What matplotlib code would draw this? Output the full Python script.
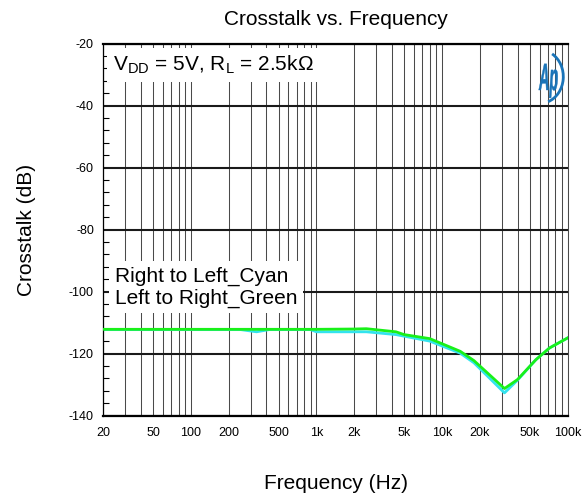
import numpy as np
import matplotlib
matplotlib.use('Agg')
import matplotlib.pyplot as plt
from matplotlib.ticker import FixedLocator, MultipleLocator, LogLocator, NullFormatter, FixedFormatter
from matplotlib.textpath import TextPath
from matplotlib.patches import PathPatch, Arc
from matplotlib.font_manager import FontProperties
from matplotlib.transforms import Affine2D, IdentityTransform

plt.rcParams['font.family'] = ['Liberation Sans', 'DejaVu Sans']
plt.rcParams['mathtext.fontset'] = 'custom'
plt.rcParams['mathtext.rm'] = 'Liberation Sans'

# ---- data ----
green_freq = [20, 100, 500, 1000, 2000, 2500, 4300, 5000, 8000, 14000, 18000, 31500, 40000, 56000, 72000, 100000]
green_db = [-112.2, -112.2, -112.2, -112.2, -112.1, -112.0, -113.0, -113.9, -115.2, -119.3, -122.3, -131.3, -128.4, -122.0, -118.2, -115.0]

cyan_freq = [20, 250, 334, 420, 900, 1000, 2500, 4300, 8000, 14000, 18000, 31500, 40000, 56000, 72000, 100000]
cyan_db = [-112.3, -112.3, -113.0, -112.3, -112.3, -113.0, -113.0, -113.9, -116.0, -119.9, -123.0, -132.7, -128.6, -122.0, -118.2, -115.0]

xtick_values = [20, 50, 100, 200, 500, 1000, 2000, 5000, 10000, 20000, 50000, 100000]
xtick_labels = ['20', '50', '100', '200', '500', '1k', '2k', '5k', '10k', '20k', '50k', '100k']
ytick_values = [-140, -120, -100, -80, -60, -40, -20]
ytick_labels = ['-140', '-120', '-100', '-80', '-60', '-40', '-20']

title = 'Crosstalk vs. Frequency'
xlabel = 'Frequency (Hz)'
ylabel = 'Crosstalk (dB)'
cond_text = r'V$_{\mathregular{DD}}$ = 5V, R$_{\mathregular{L}}$ = 2.5kΩ'
legend_text = 'Right to Left_Cyan\nLeft to Right_Green'

# ---- layout ----
W, H = 584, 498
fig = plt.figure(figsize=(W / 100, H / 100), dpi=100)
L, R, T, B = 103, 567.5, 43.5, 415.5
ax = fig.add_axes([L / W, 1 - B / H, (R - L) / W, (B - T) / H])
ax.set_xscale('log')
ax.set_xlim(20, 100000)
ax.set_ylim(-140, -20)
ax.set_axisbelow(True)

ax.xaxis.set_major_locator(FixedLocator(xtick_values))
ax.xaxis.set_major_formatter(FixedFormatter(xtick_labels))
ax.xaxis.set_minor_locator(LogLocator(base=10, subs=np.arange(1, 10)))
ax.xaxis.set_minor_formatter(NullFormatter())
ax.yaxis.set_major_locator(FixedLocator(ytick_values))
ax.yaxis.set_major_formatter(FixedFormatter(ytick_labels))
ax.yaxis.set_minor_locator(MultipleLocator(4))

ax.grid(which='both', axis='x', color='#4a4a4a', lw=0.75)
ax.grid(which='major', axis='y', color='#1a1a1a', lw=1.5)

ax.tick_params(axis='x', which='both', length=0, labelsize=9, pad=8)
ax.tick_params(axis='y', which='major', length=0, labelsize=9, pad=6.5)
ax.tick_params(axis='y', which='minor', direction='in', length=4.5, width=0.8, left=True, right=False)

for s in ['top', 'bottom']:
    ax.spines[s].set_linewidth(1.6)
    ax.spines[s].set_color('black')
ax.spines['left'].set_linewidth(0.9)
ax.spines['right'].set_linewidth(0.75)
ax.spines['right'].set_color('#4a4a4a')

# curves
ax.plot(cyan_freq, cyan_db, color='#33e3ee', lw=2.0, zorder=2)
ax.plot(green_freq, green_db, color='#19f019', lw=2.0, zorder=3)

# annotations with white background
ax.text((113 - L) / (R - L), (B - 70.7) / (B - T), cond_text, transform=ax.transAxes,
        fontsize=15, va='baseline', ha='left', zorder=4,
        bbox=dict(facecolor='white', edgecolor='none', pad=4))
ax.text((115 - L) / (R - L), (B - 287) / (B - T), legend_text, transform=ax.transAxes,
        fontsize=15, va='center', ha='left', linespacing=1.2, zorder=4,
        bbox=dict(facecolor='white', edgecolor='none', pad=4))

# titles
fig.text(336 / W, 1 - 25 / H, title, fontsize=15, ha='center', va='baseline')
fig.text(336 / W, 1 - 489.3 / H, xlabel, fontsize=15, ha='center', va='baseline')
fig.text(26 / W, 1 - 229.5 / H, ylabel, fontsize=15, ha='center', va='center', rotation=90)

# Ap logo (pixel coordinates)
logo_color = '#1a74b8'
tp = TextPath((0, 0), 'Ap', size=40, prop=FontProperties(family='Liberation Sans', style='italic', weight='bold'))
trans = Affine2D().scale(0.36, 0.95).translate(539, H - 90)
fig.add_artist(PathPatch(trans.transform_path(tp), facecolor=logo_color, edgecolor=logo_color, lw=0.3,
                         transform=IdentityTransform()))
fig.add_artist(Arc((540, H - 76.7), 46.6, 53.4, theta1=-72, theta2=62, color=logo_color,
                   lw=2.0, transform=IdentityTransform()))

fig.savefig('out.png', dpi=100)
